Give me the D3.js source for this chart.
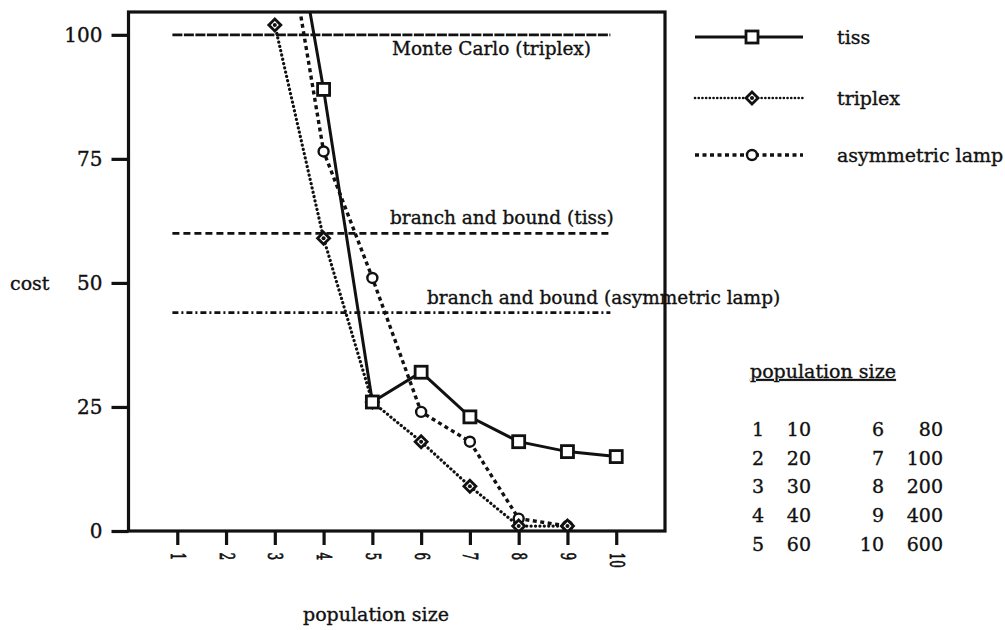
<!DOCTYPE html>
<html>
<head>
<meta charset="utf-8">
<script src="https://cdnjs.cloudflare.com/ajax/libs/d3/7.8.5/d3.min.js"></script>
<style>
body { margin: 0; background: #fff; }
text { font-family: "DejaVu Serif", serif; fill: #111; stroke: #111; stroke-width: 0.35px; }
</style>
</head>
<body>
<script>
// cost vs population size chart
const width = 1005, height = 630

// data
const popIndex = [1, 2, 3, 4, 5, 6, 7, 8, 9, 10]
const popSizes = [10, 20, 30, 40, 60, 80, 100, 200, 400, 600]
const costTicks = [0, 25, 50, 75, 100]

const tissX = [3, 4, 5, 6, 7, 8, 9, 10]
const tissCost = [145, 89, 26, 32, 23, 18, 16, 15]
const triplexX = [3, 4, 5, 6, 7, 8, 9]
const triplexCost = [102, 59, 26, 18, 9, 1, 1]
const asymX = [3, 4, 5, 6, 7, 8, 9]
const asymCost = [135, 76.5, 51, 24, 18, 2.5, 1]

const refNames = ["Monte Carlo (triplex)", "branch and bound (tiss)", "branch and bound (asymmetric lamp)"]
const refCost = [100, 60, 44]

const seriesNames = ["tiss", "triplex", "asymmetric lamp"]

const x = d3.scaleLinear()
    .domain([0, 11])
    .range([128.5, 665])

const y = d3.scaleLinear()
    .domain([0, 104.6])
    .range([531, 12])

const svg = d3.select("body").append("svg")
    .attr("width", width)
    .attr("height", height)

// styles per series
const seriesStyle = [
  { dash: null, width: 3, cap: "butt", marker: "square" },
  { dash: "0.1,4.3", width: 3.2, cap: "round", marker: "diamond" },
  { dash: "4,3.5", width: 3.4, cap: "butt", marker: "circle" }
]
const refStyle = [
  { dash: "10,1.5", width: 2.8, lx: 392, ly: 20, size: 18.5 },
  { dash: "7,4", width: 2.8, lx: 390, ly: -9, size: 18.5 },
  { dash: "6,3,2,3", width: 2.8, lx: 427, ly: -9, size: 18.5 }
]

const series = [
  d3.zip(tissX, tissCost),
  d3.zip(triplexX, triplexCost),
  d3.zip(asymX, asymCost)
]

svg.append("clipPath")
    .attr("id", "plotClip")
  .append("rect")
    .attr("x", x(0))
    .attr("y", y(104.6))
    .attr("width", x(11) - x(0))
    .attr("height", y(0) - y(104.6))

// reference lines
const refG = svg.append("g").attr("class", "refs")
refCost.forEach(function(v, i){
  refG.append("line")
      .attr("x1", x(0.9))
      .attr("x2", x(9.88))
      .attr("y1", y(v))
      .attr("y2", y(v))
      .style("stroke", "#111")
      .style("stroke-width", refStyle[i].width)
      .style("stroke-dasharray", refStyle[i].dash)
  refG.append("text")
      .attr("x", refStyle[i].lx)
      .attr("y", y(v) + refStyle[i].ly)
      .style("font-size", refStyle[i].size + "px")
      .text(refNames[i])
})

function drawMarker(g, type, cx, cy) {
  if (type === "square") {
    g.append("rect")
        .attr("x", cx - 6).attr("y", cy - 6)
        .attr("width", 12).attr("height", 12)
        .style("fill", "#fff").style("stroke", "#111").style("stroke-width", 2.8)
  } else if (type === "diamond") {
    g.append("path")
        .attr("d", "M" + cx + "," + (cy - 6) + "L" + (cx + 6) + "," + cy + "L" + cx + "," + (cy + 6) + "L" + (cx - 6) + "," + cy + "Z")
        .style("fill", "#fff").style("stroke", "#111").style("stroke-width", 2.8)
    g.append("circle")
        .attr("cx", cx).attr("cy", cy).attr("r", 2)
        .style("fill", "#111")
  } else {
    g.append("circle")
        .attr("cx", cx).attr("cy", cy).attr("r", 5)
        .style("fill", "#fff").style("stroke", "#111").style("stroke-width", 2.4)
  }
}

const line = d3.line()
    .x(function(d){ return x(d[0]) })
    .y(function(d){ return y(d[1]) })

const dataG = svg.append("g")
    .attr("clip-path", "url(#plotClip)")

// draw asym, triplex, tiss so tiss is on top
;[2, 1, 0].forEach(function(i){
  dataG.append("path")
      .datum(series[i])
      .attr("d", line)
      .style("fill", "none")
      .style("stroke", "#111")
      .style("stroke-width", seriesStyle[i].width)
      .style("stroke-linecap", seriesStyle[i].cap)
      .style("stroke-dasharray", seriesStyle[i].dash)
})
;[2, 1, 0].forEach(function(i){
  series[i].forEach(function(d){
    if (d[1] <= 104) drawMarker(dataG, seriesStyle[i].marker, x(d[0]), y(d[1]))
  })
})

// frame
svg.append("rect")
    .attr("x", x(0))
    .attr("y", y(104.6))
    .attr("width", x(11) - x(0))
    .attr("height", y(0) - y(104.6))
    .style("fill", "none")
    .style("stroke", "#111")
    .style("stroke-width", 3.2)

// axes
const yAxis = svg.append("g")
    .attr("transform", "translate(" + x(0) + ",0)")
    .call(d3.axisLeft(y).tickValues(costTicks).tickSize(17).tickPadding(9))
yAxis.select(".domain").remove()
yAxis.selectAll("line").style("stroke", "#111").style("stroke-width", 3.2)
yAxis.selectAll("text")
    .style("font-size", "20px")
    .style("font-family", "DejaVu Serif")

const xAxis = svg.append("g")
    .attr("transform", "translate(0," + y(0) + ")")
    .call(d3.axisBottom(x).tickValues(popIndex).tickSize(14))
xAxis.select(".domain").remove()
xAxis.selectAll("line").style("stroke", "#111").style("stroke-width", 3.2)
xAxis.selectAll("text")
    .attr("transform", "rotate(90) scale(0.6,1)")
    .attr("x", 36)
    .attr("y", 0)
    .attr("dy", "0.35em")
    .attr("text-anchor", "start")
    .style("font-size", "20px")
    .style("font-family", "DejaVu Serif")
    .style("stroke-width", "0.8px")

svg.append("text")
    .attr("x", 10)
    .attr("y", 290)
    .style("font-size", "19px")
    .text("cost")

svg.append("text")
    .attr("x", 303)
    .attr("y", 621)
    .style("font-size", "19px")
    .text("population size")

// series legend
const legendY = [37, 98, 155]
const legend = svg.append("g").attr("class", "legend")
seriesNames.forEach(function(name, i){
  legend.append("line")
      .attr("x1", 695).attr("x2", 803)
      .attr("y1", legendY[i]).attr("y2", legendY[i])
      .style("stroke", "#111")
      .style("stroke-width", i === 1 ? 2.6 : seriesStyle[i].width)
      .style("stroke-linecap", seriesStyle[i].cap)
      .style("stroke-dasharray", i === 1 ? "0.1,3.6" : seriesStyle[i].dash)
  drawMarker(legend, seriesStyle[i].marker, 752, legendY[i])
  legend.append("text")
      .attr("x", 837)
      .attr("y", legendY[i] + 7)
      .style("font-size", "19px")
      .text(name)
})

// population size table
const table = svg.append("g").attr("class", "table")
table.append("text")
    .attr("x", 750)
    .attr("y", 378)
    .style("font-size", "19px")
    .style("text-decoration", "underline")
    .text("population size")

popIndex.forEach(function(idx, i){
  const col = i < 5 ? 0 : 1
  const row = i % 5
  const by = 436 + row * 28.7
  table.append("text")
      .attr("x", col === 0 ? 752 : 884)
      .attr("y", by)
      .attr("text-anchor", col === 0 ? "start" : "end")
      .style("font-size", "19px")
      .text(idx)
  table.append("text")
      .attr("x", col === 0 ? 811 : 943)
      .attr("y", by)
      .attr("text-anchor", "end")
      .style("font-size", "19px")
      .text(popSizes[i])
})
</script>
</body>
</html>
